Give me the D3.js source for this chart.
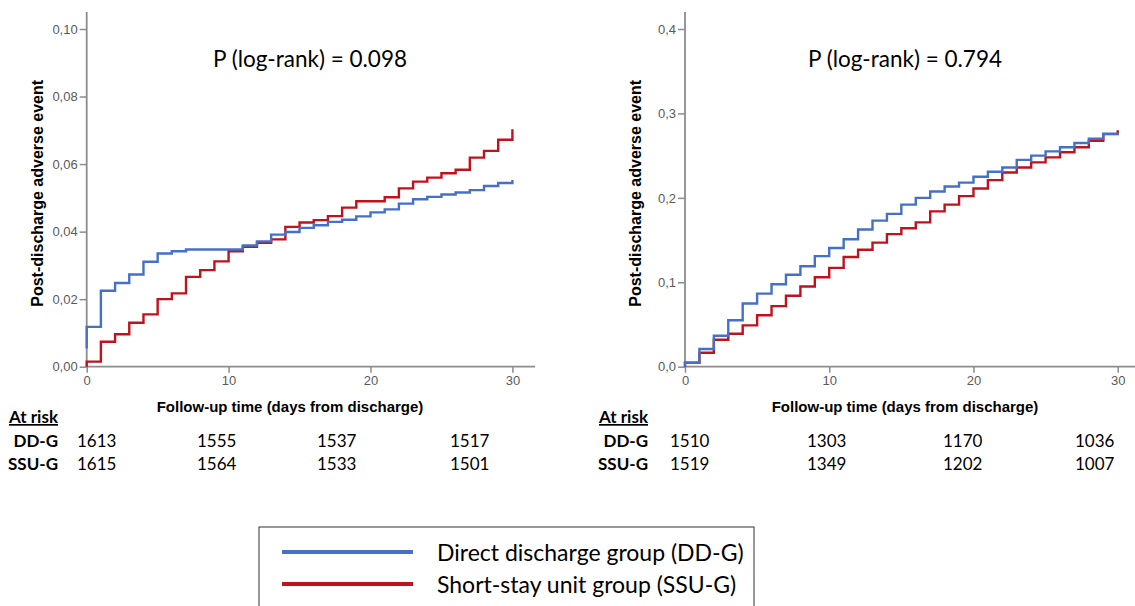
<!DOCTYPE html>
<html>
<head>
<meta charset="utf-8">
<script src="https://cdn.jsdelivr.net/npm/d3@7"></script>
<style>
  body { margin: 0; background: #fff; }
  svg { display: block; }
</style>
</head>
<body>
<div id="container"></div>
<script>
// courbes d'incidence cumulée (pas par jour, de 0 à 29), + valeur de départ et valeur finale à J30

// panneau gauche
const leftDD = [0.0118, 0.0225, 0.0248, 0.0273, 0.0311, 0.0335, 0.0342, 0.0347, 0.0347, 0.0347,
                0.0347, 0.0359, 0.0371, 0.0391, 0.0399, 0.0411, 0.0419, 0.0429, 0.0435, 0.0445,
                0.0457, 0.0466, 0.0483, 0.0496, 0.0503, 0.0510, 0.0516, 0.0523, 0.0535, 0.0544];
const leftDDStart = 0.0054, leftDDEnd = 0.0553;
const leftSSU = [0.0015, 0.0074, 0.0096, 0.0130, 0.0155, 0.0200, 0.0217, 0.0266, 0.0286, 0.0312,
                 0.0342, 0.0355, 0.0367, 0.0377, 0.0414, 0.0427, 0.0434, 0.0446, 0.0471, 0.0490,
                 0.0490, 0.0502, 0.0528, 0.0548, 0.0560, 0.0573, 0.0583, 0.0619, 0.0639, 0.0672];
const leftSSUStart = 0.0, leftSSUEnd = 0.0703;

// panneau droit
const rightDD = [0.0047, 0.0209, 0.0366, 0.0550, 0.0748, 0.0866, 0.0976, 0.1090, 0.1190, 0.1310,
                 0.1406, 0.1510, 0.1626, 0.1730, 0.1810, 0.1920, 0.2000, 0.2075, 0.2134, 0.2180,
                 0.2250, 0.2310, 0.2360, 0.2450, 0.2500, 0.2550, 0.2600, 0.2650, 0.2700, 0.2760];
const rightDDStart = 0.0, rightDDEnd = 0.2770;
const rightSSU = [0.0047, 0.0165, 0.0320, 0.0390, 0.0490, 0.0610, 0.0717, 0.0840, 0.0950, 0.1060,
                  0.1170, 0.1300, 0.1386, 0.1470, 0.1570, 0.1640, 0.1710, 0.1840, 0.1920, 0.2020,
                  0.2110, 0.2210, 0.2300, 0.2360, 0.2420, 0.2480, 0.2540, 0.2600, 0.2676, 0.2755];
const rightSSUStart = 0.0, rightSSUEnd = 0.2800;

// effectifs à risque
const riskLabels = ["DD-G", "SSU-G"];
const leftRiskDD = [1613, 1555, 1537, 1517];
const leftRiskSSU = [1615, 1564, 1533, 1501];
const rightRiskDD = [1510, 1303, 1170, 1036];
const rightRiskSSU = [1519, 1349, 1202, 1007];

const leftYTicks = [0, 0.02, 0.04, 0.06, 0.08, 0.10];
const rightYTicks = [0, 0.1, 0.2, 0.3, 0.4];
const xTicks = [0, 10, 20, 30];

const pLeft = "P (log-rank) = 0.098";
const pRight = "P (log-rank) = 0.794";
const yTitle = "Post-discharge adverse event";
const xTitle = "Follow-up time (days from discharge)";
const legendLabels = ["Direct discharge group (DD-G)", "Short-stay unit group (SSU-G)"];

const width = 1135;
const height = 606;
const blue = "#4570c8";
const red = "#c0121c";
const axisColor = "#8c8c8c";

const svg = d3.create("svg")
    .attr("width", width)
    .attr("height", height)
    .attr("viewBox", [0, 0, width, height]);

svg.append("rect").attr("width", width).attr("height", height).attr("fill", "#fff");

// transforme un tableau de pas en points pour curveStepAfter
function steps(start, vals, end) {
    let pts = [[0, start]];
    vals.forEach((v, i) => pts.push([i, v]));
    pts.push([vals.length, end]);
    return pts;
}

function panel(o) {
    const x = d3.scaleLinear().domain([0, 30]).range([o.x0, o.x30]);
    const y = d3.scaleLinear().domain([0, o.yMax]).range([366.7, o.yTop]);
    const g = svg.append("g");

    // axes
    const fmt = v => d3.format(o.fmt)(v).replace(".", ",");
    const yAxis = g.append("g")
        .attr("transform", `translate(${o.x0},0)`)
        .call(d3.axisLeft(y).tickValues(o.yTicks).tickFormat(fmt).tickSize(7).tickPadding(2).tickSizeOuter(0));
    const xAxis = g.append("g")
        .attr("transform", `translate(0,366.7)`)
        .call(d3.axisBottom(x).tickValues(xTicks).tickSize(6).tickPadding(3).tickSizeOuter(0));
    [yAxis, xAxis].forEach(a => {
        a.select(".domain").remove();
        a.selectAll("line").attr("stroke", axisColor).attr("stroke-width", 1.5);
        a.selectAll("text")
            .attr("fill", "#5a5a5a")
            .style("font-family", "'Liberation Sans', Arial, sans-serif")
            .style("font-size", "13px");
    });
    g.append("line")
        .attr("x1", o.x0).attr("x2", o.x0).attr("y1", 12).attr("y2", 367.5)
        .attr("stroke", axisColor).attr("stroke-width", 1.8);
    g.append("line")
        .attr("x1", o.x0).attr("x2", o.xEnd).attr("y1", 366.7).attr("y2", 366.7)
        .attr("stroke", axisColor).attr("stroke-width", 1.8);

    // courbes
    const line = d3.line().x(d => x(d[0])).y(d => y(d[1])).curve(d3.curveStepAfter);
    o.series.forEach(s => {
        g.append("path")
            .datum(steps(s.start, s.vals, s.end))
            .attr("fill", "none")
            .attr("stroke", s.color)
            .attr("stroke-width", 2.4)
            .attr("d", line);
    });

    // titres
    g.append("text")
        .attr("transform", `translate(${o.x0 - 44},${(12 + 366.7) / 2 + 4}) rotate(-90)`)
        .attr("text-anchor", "middle")
        .style("font-family", "'Liberation Sans', Arial, sans-serif")
        .style("font-weight", "bold")
        .style("font-size", "16px")
        .text(yTitle);
    g.append("text")
        .attr("x", o.xTitleX).attr("y", 412)
        .attr("text-anchor", "middle")
        .style("font-family", "'Liberation Sans', Arial, sans-serif")
        .style("font-weight", "bold")
        .style("font-size", "15px")
        .text(xTitle);
    g.append("text")
        .attr("x", o.pX).attr("y", 67)
        .style("font-family", "Lato, 'Open Sans', sans-serif")
        .style("font-size", "22.5px")
        .text(o.p);

    // tableau "At risk"
    const tf = "Lato, 'Open Sans', sans-serif";
    g.append("text")
        .attr("x", o.riskX).attr("y", 423)
        .attr("text-anchor", "end")
        .style("font-family", tf).style("font-weight", "bold").style("font-size", "17px")
        .style("text-decoration", "underline")
        .text("At risk");
    [o.riskDD, o.riskSSU].forEach((row, r) => {
        const yy = 447 + r * 23;
        g.append("text")
            .attr("x", o.riskX).attr("y", yy)
            .attr("text-anchor", "end")
            .style("font-family", tf).style("font-weight", "bold").style("font-size", "17px")
            .text(riskLabels[r]);
        g.selectAll(null)
            .data(row)
            .join("text")
            .attr("x", (d, i) => o.riskCols[i])
            .attr("y", yy)
            .style("font-family", tf).style("font-size", "17px")
            .text(d => d);
    });
}

panel({
    x0: 86.7, x30: 512.4, xEnd: 535, yTop: 29, yMax: 0.10, fmt: ".2f", yTicks: leftYTicks,
    series: [
        { start: leftSSUStart, vals: leftSSU, end: leftSSUEnd, color: red },
        { start: leftDDStart, vals: leftDD, end: leftDDEnd, color: blue }
    ],
    xTitleX: 290, pX: 213, p: pLeft,
    riskX: 58, riskCols: [77, 197, 317, 450], riskDD: leftRiskDD, riskSSU: leftRiskSSU
});

panel({
    x0: 685, x30: 1117.7, xEnd: 1140, yTop: 29, yMax: 0.40, fmt: ".1f", yTicks: rightYTicks,
    series: [
        { start: rightSSUStart, vals: rightSSU, end: rightSSUEnd, color: red },
        { start: rightDDStart, vals: rightDD, end: rightDDEnd, color: blue }
    ],
    xTitleX: 905, pX: 808, p: pRight,
    riskX: 648, riskCols: [670, 807, 943, 1075], riskDD: rightRiskDD, riskSSU: rightRiskSSU
});

// légende
const leg = svg.append("g");
leg.append("rect")
    .attr("x", 259).attr("y", 527).attr("width", 495).attr("height", 90)
    .attr("fill", "none").attr("stroke", "#333").attr("stroke-width", 1);
[blue, red].forEach((c, i) => {
    leg.append("line")
        .attr("x1", 282).attr("x2", 413)
        .attr("y1", 552 + i * 32).attr("y2", 552 + i * 32)
        .attr("stroke", c).attr("stroke-width", 4);
    leg.append("text")
        .attr("x", 437).attr("y", 561 + i * 32)
        .style("font-family", "Lato, 'Open Sans', sans-serif")
        .style("font-size", "23px")
        .text(legendLabels[i]);
});

d3.select("#container").node().append(svg.node());
</script>
</body>
</html>
